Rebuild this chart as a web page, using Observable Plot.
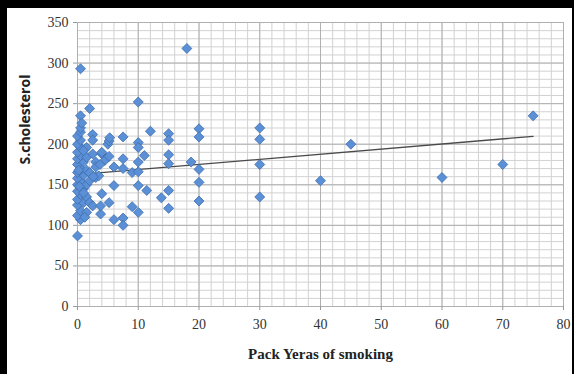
<!DOCTYPE html>
<html>
<head>
<meta charset="utf-8">
<script src="https://cdn.jsdelivr.net/npm/d3@7"></script>
<script src="https://cdn.jsdelivr.net/npm/@observablehq/plot@0.6"></script>
<style>
  html, body { margin: 0; padding: 0; background: #fff; }
  #wrap { position: relative; width: 574px; height: 374px; overflow: hidden; }
  .bar { position: absolute; background: #000; }
</style>
</head>
<body>
<div id="wrap">
  <div id="chart"></div>
  <div class="bar" style="left:0;top:0;width:574px;height:8px"></div>
  <div class="bar" style="left:0;top:0;width:7px;height:374px"></div>
  <div class="bar" style="left:572px;top:0;width:2px;height:374px"></div>
</div>
<script>
// Pack years of smoking (x) and serum cholesterol (y)
const packYears = [
  0, 0.5, 0, 0.5, 0, 1, 0, 0.5, 0, 1, 0, 0.5, 0, 1, 0, 0.5, 0, 1, 0, 0.5, 0, 0.5, 0, 0.5, 0, 0.5, 0.5, 0.5, 0.5,
  1.5, 1.5, 1.5, 1.5, 1.5, 1.5, 1, 2, 2.5, 2.5, 2, 2.5, 2, 2, 2.5,
  3, 3, 3, 3.5, 3.8, 3.8, 4, 4, 4.5, 5, 5.2, 5.3, 5.2, 5.2, 6, 6, 6, 7.5, 7.5, 7.5, 7.5, 7.5,
  9, 9, 10, 10, 10, 10, 10, 10, 10, 11, 11.4, 12, 13.8, 15, 15, 15, 15, 15, 15, 18, 18.7,
  20, 20, 20, 20, 20, 30, 30, 30, 30, 40, 45, 60, 70, 75,
  0.3, 1, 0.7, 4, 2.6, 1.2, 0.2, 3.7
];
const cholesterol = [
  87, 107, 112, 118, 125, 128, 132, 138, 142, 145, 150, 155, 158, 162, 165, 170, 175, 178, 182, 186, 190, 196, 200, 205, 210, 215, 220, 235, 293,
  184, 196, 150, 135, 116, 168, 140, 244, 212, 205, 128, 124, 165, 155, 188,
  178, 172, 159, 161, 114, 124, 139, 188, 180, 200, 204, 208, 185, 128, 172, 149, 107, 209, 182, 170, 109, 100,
  165, 123, 252, 202, 196, 178, 166, 149, 116, 186, 143, 216, 134, 213, 205, 187, 176, 143, 121, 318, 178,
  219, 209, 169, 153, 130, 220, 206, 175, 135, 155, 200, 159, 175, 235,
  148, 192, 226, 190, 160, 110, 168, 175
];
const xTicks = [0, 10, 20, 30, 40, 50, 60, 70, 80];
const yTicks = [0, 50, 100, 150, 200, 250, 300, 350];
const trendIntercept = 162.5;
const trendSlope = 0.63;
const trendRange = [0, 75];

const data = packYears.map((x, i) => ({x, y: cholesterol[i]}));
const trend = trendRange.map(x => ({x, y: trendIntercept + trendSlope * x}));
const xMinor = d3.range(0, 81, 2);
const yMinor = d3.range(0, 351, 10);

const chart = Plot.plot({
  width: 574,
  height: 374,
  marginLeft: 77,
  marginRight: 11,
  marginTop: 22,
  marginBottom: 68,
  style: {fontFamily: "'Liberation Serif', serif", fontSize: "14px", color: "#333", background: "transparent"},
  x: {domain: [0, 80], ticks: xTicks, tickSize: 4, tickPadding: 9, label: null},
  y: {domain: [0, 350], ticks: yTicks, tickSize: 4, tickPadding: 5, label: null},
  marks: [
    Plot.ruleX(xMinor, {stroke: "#d2d2d2", strokeWidth: 1}),
    Plot.ruleY(yMinor, {stroke: "#d2d2d2", strokeWidth: 1}),
    Plot.ruleX(xTicks, {stroke: "#b0b0b0", strokeWidth: 1}),
    Plot.ruleY(yTicks, {stroke: "#b0b0b0", strokeWidth: 1}),
    Plot.axisX({ticks: xTicks, tickSize: 4, tickPadding: 9, stroke: "#999", fill: "#333", label: null}),
    Plot.axisY({ticks: yTicks, tickSize: 4, tickPadding: 5, stroke: "#999", fill: "#333", label: null}),
    Plot.line(trend, {x: "x", y: "y", stroke: "#4a4a4a", strokeWidth: 1.3}),
    Plot.dot(data, {x: "x", y: "y", symbol: "diamond2", r: 4.5, fill: "#5B8FD6", stroke: "#3E6DAD", strokeWidth: 0.8}),
    Plot.text(["Pack Yeras of smoking"], {frameAnchor: "bottom", dy: 52, fontWeight: "bold", fontSize: 15, fill: "#222", fontFamily: "'Liberation Serif', serif"}),
    Plot.text(["S.cholesterol"], {frameAnchor: "left", dx: -52, rotate: -90, fontWeight: "bold", fontSize: 14, fill: "#222", fontFamily: "'Open Sans', sans-serif"})
  ]
});
document.getElementById("chart").appendChild(chart);
</script>
</body>
</html>
